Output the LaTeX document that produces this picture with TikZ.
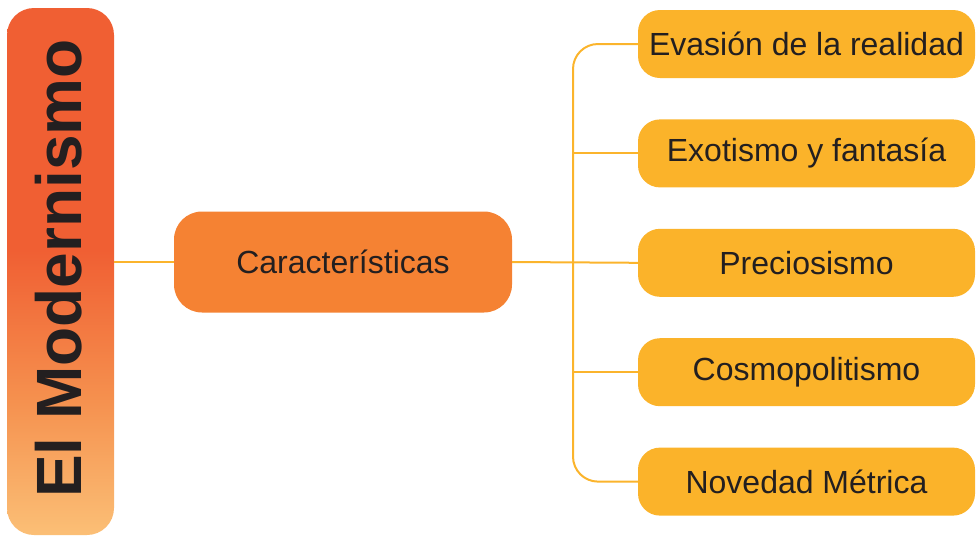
\documentclass[tikz,border=0pt]{standalone}
\usepackage{fontspec}
\setmainfont{Liberation Sans}
\usepackage{tikz}
\usetikzlibrary{positioning}
\usepackage{xcolor}
\definecolor{bartop}{HTML}{F05F33}
\definecolor{barmid}{HTML}{F5904E}
\definecolor{barlow}{HTML}{FBBF76}
\definecolor{hubfill}{HTML}{F58233}
\definecolor{leaffill}{HTML}{FBB32A}
\definecolor{linkcol}{HTML}{FBB42C}
\definecolor{ink}{HTML}{231F20}
\pgfdeclareverticalshading{barshade}{100bp}{color(0bp)=(barlow); color(25bp)=(barlow); color(38bp)=(barmid); color(52bp)=(bartop); color(75bp)=(bartop); color(100bp)=(bartop)}

\begin{document}
\begin{tikzpicture}[
    x=1pt, y=-1pt,
    titlebar/.style={rounded corners=27pt, minimum width=107pt, minimum height=527pt, inner sep=0pt, shading=barshade},
    title/.style={font=\fontsize{64}{70}\selectfont\bfseries, text=ink, inner sep=0pt},
    hub/.style={fill=hubfill, rounded corners=28pt, minimum width=338pt, minimum height=101pt, inner sep=0pt, font=\fontsize{32}{36}\selectfont, text=ink},
    leaf/.style={fill=leaffill, rounded corners=22pt, minimum width=337pt, minimum height=68pt, inner sep=0pt, font=\fontsize{32}{36}\selectfont, text=ink},
    link/.style={draw=linkcol, line width=2pt},
    node distance=41pt
]
    \useasboundingbox (0,0) rectangle (976,536);

    \node[titlebar] (barra) at (60.5,271.5) {};
    \node[title, rotate=90] (titulo) at (59,268.5) {El Modernismo};
    \node[hub] (rasgos) at (343,262) {Características};

    \node[leaf] (evasion) at (806.5,44) {Evasión de la realidad};
    \node[leaf, below=of evasion] (exotismo) {Exotismo y fantasía};
    \node[leaf, below=of exotismo] (preciosismo) {Preciosismo};
    \node[leaf, below=of preciosismo] (cosmo) {Cosmopolitismo};
    \node[leaf, below=of cosmo] (novedad) {Novedad Métrica};

    \coordinate (tronco) at (573,262);

    \draw[link] (barra.east |- rasgos.west) -- (rasgos.west);
    \draw[link] (rasgos.east) -- (preciosismo.west);
    \draw[link, rounded corners=25pt] (evasion.west) -| (tronco) |- (novedad.west);
    \draw[link] (exotismo.west) -- (exotismo.west -| tronco);
    \draw[link] (cosmo.west) -- (cosmo.west -| tronco);
\end{tikzpicture}
\end{document}
